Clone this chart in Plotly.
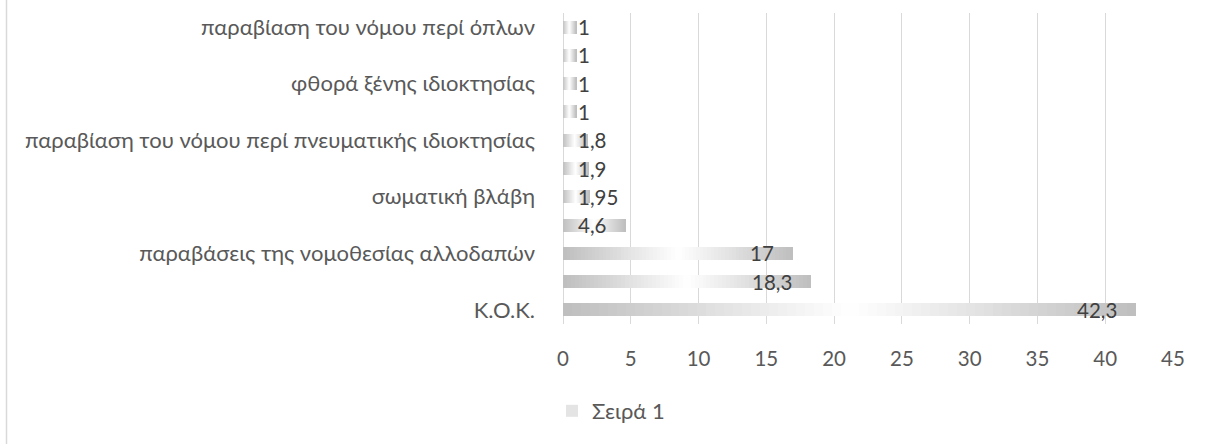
import plotly.graph_objects as go

# ---- data (bottom to top) ----
values = [42.3, 18.3, 17, 4.6, 1.95, 1.9, 1.8, 1, 1, 1, 1]
category_labels = [
    "Κ.Ο.Κ.",
    "",
    "παραβάσεις της νομοθεσίας αλλοδαπών",
    "",
    "σωματική βλάβη",
    "",
    "παραβίαση του νόμου περί πνευματικής ιδιοκτησίας",
    "",
    "φθορά ξένης ιδιοκτησίας",
    "",
    "παραβίαση του νόμου περί όπλων",
]
series_name = "Σειρά 1"
x_ticks = [0, 5, 10, 15, 20, 25, 30, 35, 40, 45]

# ---- layout constants ----
W, H = 1208, 444
ML, MR, MT, MB = 563, 35, 13, 120
FONT = "Lato"
FS_NUM = 20.5
FS_TXT = 22
AXIS_COLOR = "#595959"
LABEL_COLOR = "#404040"
GRID = "#d9d9d9"
plot_w = W - ML - MR
plot_h = H - MT - MB
px_per_unit = plot_w / (x_ticks[-1] - x_ticks[0])

positions = list(range(len(values)))

fig = go.Figure()

# gradient fill emulated with stacked segments
N = 64
for k in range(N):
    t = (k + 0.5) / N
    light = 1 - abs(2 * t - 1)
    c = int(round(190 + 65 * light))
    col = f"rgb({c},{c},{c})"
    fig.add_trace(go.Bar(
        x=[v / N for v in values],
        y=positions,
        orientation="h",
        width=0.46,
        marker=dict(color=col, line=dict(width=0)),
        name=series_name,
        showlegend=(k == 18),
        hoverinfo="skip",
    ))

# data labels (inside end, or from the base when they do not fit)
for p, v in zip(positions, values):
    txt = f"{v:g}".replace(".", ",")
    est_w = 10.5 * len(txt)
    if v * px_per_unit - 17 - est_w >= 14:
        fig.add_annotation(x=v, y=p, text=txt, showarrow=False, xanchor="right",
                           xshift=-17, font=dict(family=FONT, size=FS_NUM, color=LABEL_COLOR))
    else:
        fig.add_annotation(x=0, y=p, text=txt, showarrow=False, xanchor="left",
                           xshift=13, font=dict(family=FONT, size=FS_NUM, color=LABEL_COLOR))

tickvals = [p for p, lab in zip(positions, category_labels) if lab]
ticktext = [lab for lab in category_labels if lab]

fig.update_layout(
    width=W, height=H,
    margin=dict(l=ML, r=MR, t=MT, b=MB),
    paper_bgcolor="white", plot_bgcolor="white",
    barmode="stack",
    font=dict(family=FONT, size=FS_NUM, color=AXIS_COLOR),
    xaxis=dict(range=[x_ticks[0], x_ticks[-1]], tickvals=x_ticks, showgrid=True,
               gridcolor=GRID, gridwidth=1.3, zeroline=True, zerolinecolor=GRID,
               zerolinewidth=1.3, showline=False, ticks="", ticklabelstandoff=20,
               tickfont=dict(family=FONT, size=FS_NUM, color=AXIS_COLOR), fixedrange=True),
    yaxis=dict(range=[-0.5, len(values) - 0.5], tickvals=tickvals, ticktext=ticktext,
               showgrid=False, zeroline=False, showline=False, ticks="",
               ticklabelstandoff=27,
               tickfont=dict(family=FONT, size=FS_TXT, color=AXIS_COLOR), fixedrange=True),
    legend=dict(orientation="h", x=-11 / plot_w, xanchor="left", y=(324 - 411) / plot_h,
                yanchor="middle",
                font=dict(family=FONT, size=FS_TXT, color=AXIS_COLOR), itemwidth=30,
                bgcolor="rgba(0,0,0,0)"),
    showlegend=True,
)

# chart frame left edge
fig.add_shape(type="line", xref="paper", yref="paper",
              x0=(6.5 - ML) / plot_w, x1=(6.5 - ML) / plot_w, y0=-2, y1=2,
              line=dict(color=GRID, width=1.5))

fig.write_html("out.html", config={"displayModeBar": False},
               post_script="document.body.style.margin='0';")
